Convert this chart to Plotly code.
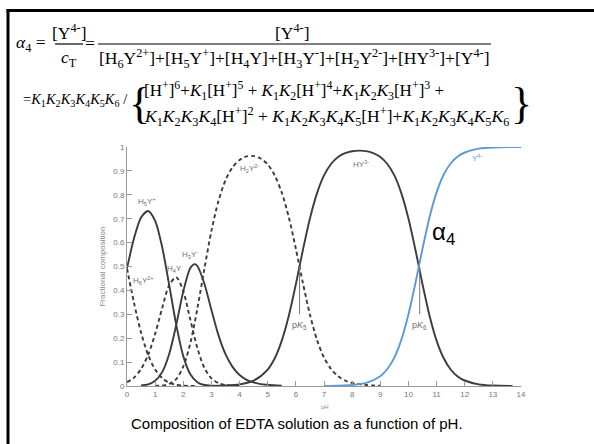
import plotly.graph_objects as go

# ---------------- data ----------------
ph_h6y = [0, 0.25, 0.5, 0.75, 1.0, 1.25, 1.5, 1.75, 2.0, 2.25, 2.5]
f_h6y = [0.492, 0.347, 0.223, 0.130, 0.069, 0.033, 0.013, 0.005, 0.001, 0.0, 0.0]

ph_h5y = [0, 0.25, 0.5, 0.75, 1.0, 1.25, 1.5, 1.75, 2.0, 2.25, 2.5, 2.75, 3.0, 3.5, 4.0]
f_h5y = [0.492, 0.618, 0.705, 0.732, 0.691, 0.581, 0.422, 0.256, 0.125, 0.049, 0.016, 0.004, 0.001, 0.0, 0.0]

ph_h4y = [0, 0.25, 0.5, 0.75, 1.0, 1.25, 1.5, 1.75, 2.0, 2.25, 2.5, 2.75, 3.0, 3.25, 3.5, 3.75]
f_h4y = [0.016, 0.035, 0.071, 0.130, 0.218, 0.326, 0.422, 0.455, 0.396, 0.278, 0.159, 0.076, 0.032, 0.012, 0.004, 0.001]

ph_h3y = [0.5, 0.75, 1.0, 1.25, 1.5, 1.75, 2.0, 2.25, 2.4, 2.5, 2.75, 3.0, 3.25, 3.5, 3.75, 4.0, 4.25, 4.5, 4.75, 5.0, 5.5]
f_h3y = [0.002, 0.007, 0.022, 0.058, 0.134, 0.256, 0.396, 0.494, 0.510, 0.502, 0.428, 0.318, 0.213, 0.133, 0.080, 0.046, 0.026, 0.015, 0.008, 0.005, 0.001]

ph_h2y = [1.0, 1.25, 1.5, 1.75, 2.0, 2.25, 2.5, 2.75, 3.0, 3.25, 3.5, 3.75, 4.0, 4.25, 4.5, 4.75, 5.0,
          5.25, 5.5, 5.75, 6.0, 6.25, 6.5, 6.75, 7.0, 7.25, 7.5, 7.75, 8.0, 8.5, 9.0]
f_h2y = [0.0004, 0.002, 0.009, 0.029, 0.081, 0.179, 0.324, 0.491, 0.649, 0.774, 0.861, 0.915, 0.946, 0.961, 0.962, 0.952, 0.927,
         0.881, 0.809, 0.706, 0.574, 0.431, 0.299, 0.193, 0.119, 0.071, 0.041, 0.023, 0.013, 0.004, 0.001]

ph_hy = [3.0, 3.5, 4.0, 4.5, 5.0, 5.25, 5.5, 5.75, 6.0, 6.25, 6.5, 6.75, 7.0, 7.25, 7.5, 7.75, 8.0, 8.25, 8.5,
         8.75, 9.0, 9.25, 9.5, 9.75, 10.0, 10.25, 10.5, 10.75, 11.0, 11.25, 11.5, 11.75, 12.0, 12.5, 13.0, 13.7]
f_hy = [0.0005, 0.002, 0.007, 0.0225, 0.069, 0.116, 0.190, 0.294, 0.426, 0.569, 0.701, 0.806, 0.881, 0.929, 0.958, 0.974, 0.982, 0.985, 0.983,
        0.974, 0.958, 0.929, 0.881, 0.806, 0.701, 0.569, 0.426, 0.294, 0.190, 0.117, 0.069, 0.040, 0.023, 0.007, 0.002, 0.0005]

ph_y = [7.0, 7.5, 8.0, 8.5, 9.0, 9.25, 9.5, 9.75, 10.0, 10.25, 10.5, 10.75, 11.0, 11.25, 11.5, 11.75, 12.0, 12.5, 13.0, 14.0]
f_y = [0.0004, 0.0013, 0.004, 0.013, 0.041, 0.071, 0.119, 0.194, 0.299, 0.431, 0.574, 0.706, 0.810, 0.884, 0.931, 0.960, 0.977, 0.993, 0.998, 1.0]

pk_labels = ["p<i>K</i><sub>5</sub>", "p<i>K</i><sub>6</sub>"]
pk_values = [6.13, 10.4]

x_ticks = list(range(0, 15))
y_ticks = [0, 0.1, 0.2, 0.3, 0.4, 0.5, 0.6, 0.7, 0.8, 0.9, 1]

# ---------------- figure ----------------
W, H = 594, 444
L, R, T, B = 127, 521, 147, 386

def px(x):
    return (x - L) / (R - L)

def py(y):
    return (B - y) / (B - T)

DARK = "#3c3c3c"
BLUE = "#5b9bd5"
DASH = "4px,3px"

fig = go.Figure()

def add(xs, ys, color, dash=None):
    fig.add_trace(go.Scatter(x=xs, y=ys, mode="lines", line=dict(color=color, width=1.9, dash=dash, shape="spline", smoothing=0.8),
                             hoverinfo="skip", showlegend=False, cliponaxis=False))

add(ph_h2y, f_h2y, DARK, DASH)
add(ph_h6y, f_h6y, DARK, DASH)
add(ph_h4y, f_h4y, DARK, DASH)
add(ph_h5y, f_h5y, DARK)
add(ph_h3y, f_h3y, DARK)
add(ph_hy, f_hy, DARK)
add(ph_y, f_y, BLUE)

# pK marker lines
for k in pk_values:
    fig.add_trace(go.Scatter(x=[k, k], y=[0.5, 0.3], mode="lines", line=dict(color="#777777", width=1),
                             hoverinfo="skip", showlegend=False))

annotations = []
GRAY = "#6f6f6f"
species = [
    ("H<sub>5</sub>Y<sup>+</sup>", 0.72, 0.77, GRAY),
    ("H<sub>6</sub>Y<sup>2+</sup>", 0.58, 0.44, GRAY),
    ("H<sub>4</sub>Y", 1.7, 0.49, GRAY),
    ("H<sub>3</sub>Y<sup>-</sup>", 2.25, 0.55, GRAY),
    ("H<sub>2</sub>Y<sup>2-</sup>", 4.37, 0.91, GRAY),
    ("HY<sup>3-</sup>", 8.3, 0.93, GRAY),
    ("Y<sup>4-</sup>", 12.45, 0.955, BLUE),
]
for txt_, x, y, c in species:
    annotations.append(dict(x=x, y=y, xref="x", yref="y", text=txt_, showarrow=False,
                            font=dict(family="Liberation Sans, Arial", size=8, color=c)))
for txt_, k in zip(pk_labels, pk_values):
    annotations.append(dict(x=k, y=0.255, xref="x", yref="y", text=txt_, showarrow=False,
                            font=dict(family="Liberation Sans, Arial", size=9, color=GRAY)))

annotations.append(dict(x=11.25, y=0.64, xref="x", yref="y", text="α<sub>4</sub>", showarrow=False,
                        font=dict(family="Liberation Sans, Arial", size=24, color="black")))

# ---------- formula (serif text) ----------
SERIF = "Liberation Serif, Times New Roman, serif"

def txt(x, y, s, size=17.5, xanchor="center", yanchor="middle", family=SERIF, color="black"):
    annotations.append(dict(x=px(x), y=py(y), xref="paper", yref="paper", text=s, showarrow=False,
                            xanchor=xanchor, yanchor=yanchor, font=dict(family=family, size=size, color=color)))

txt(14, 43, "<i>α</i><sub>4</sub> =", xanchor="left")
txt(69, 32, "[Y<sup>4-</sup>]")
txt(69, 58, "<i>c</i><sub>T</sub>")
txt(90, 43, "=")
txt(292, 32, "[Y<sup>4-</sup>]")
txt(294, 58, "[H<sub>6</sub>Y<sup>2+</sup>]+[H<sub>5</sub>Y<sup>+</sup>]+[H<sub>4</sub>Y]+[H<sub>3</sub>Y<sup>-</sup>]+"
             "[H<sub>2</sub>Y<sup>2-</sup>]+[HY<sup>3-</sup>]+[Y<sup>4-</sup>]")
txt(21, 100, "=<i>K</i><sub>1</sub><i>K</i><sub>2</sub><i>K</i><sub>3</sub><i>K</i><sub>4</sub><i>K</i><sub>5</sub><i>K</i><sub>6</sub> /",
    size=14.5, xanchor="left")
txt(127, 103, "{", size=44, xanchor="left")
txt(142, 90, "[H<sup>+</sup>]<sup>6</sup>+<i>K</i><sub>1</sub>[H<sup>+</sup>]<sup>5</sup> + <i>K</i><sub>1</sub><i>K</i><sub>2</sub>[H<sup>+</sup>]<sup>4</sup>+"
             "<i>K</i><sub>1</sub><i>K</i><sub>2</sub><i>K</i><sub>3</sub>[H<sup>+</sup>]<sup>3</sup> +", size=17, xanchor="left")
txt(142, 116, "<i>K</i><sub>1</sub><i>K</i><sub>2</sub><i>K</i><sub>3</sub><i>K</i><sub>4</sub>[H<sup>+</sup>]<sup>2</sup> + "
              "<i>K</i><sub>1</sub><i>K</i><sub>2</sub><i>K</i><sub>3</sub><i>K</i><sub>4</sub><i>K</i><sub>5</sub>[H<sup>+</sup>]+"
              "<i>K</i><sub>1</sub><i>K</i><sub>2</sub><i>K</i><sub>3</sub><i>K</i><sub>4</sub><i>K</i><sub>5</sub><i>K</i><sub>6</sub>", xanchor="left")
txt(534, 103, "}", size=44, xanchor="right")

# caption
txt(297, 423, "Composition of EDTA solution as a function of pH.", size=15, family="Liberation Sans, Arial")
# x axis title
txt(325, 407, "pH", size=6, family="Liberation Sans, Arial", color="#888888")

shapes = [
    # fraction bars
    dict(type="line", xref="paper", yref="paper", x0=px(55), x1=px(83), y0=py(44), y1=py(44), line=dict(color="black", width=1.2)),
    dict(type="line", xref="paper", yref="paper", x0=px(98), x1=px(491), y0=py(44), y1=py(44), line=dict(color="black", width=1.2)),
    # slide frame
    dict(type="line", xref="paper", yref="paper", x0=px(6.5), x1=px(600), y0=py(10.5), y1=py(10.5), line=dict(color="black", width=3)),
    dict(type="line", xref="paper", yref="paper", x0=px(8), x1=px(8), y0=py(9), y1=py(450), line=dict(color="black", width=3)),
]

fig.update_layout(
    width=W, height=H,
    margin=dict(l=L, r=W - R, t=T, b=H - B, pad=0),
    paper_bgcolor="white", plot_bgcolor="white",
    showlegend=False,
    annotations=annotations,
    shapes=shapes,
    xaxis=dict(range=[0, 14], tickvals=x_ticks, ticks="inside", ticklen=5, tickcolor="#999999",
               showline=True, linecolor="#999999", linewidth=1, showgrid=False, zeroline=False,
               tickfont=dict(family="Liberation Sans, Arial", size=8, color="#777777")),
    yaxis=dict(range=[0, 1], tickvals=y_ticks, ticks="inside", ticklen=5, tickcolor="#999999",
               showline=True, linecolor="#999999", linewidth=1, showgrid=False, zeroline=False,
               tickfont=dict(family="Liberation Sans, Arial", size=8, color="#777777"),
               title=dict(text="Fractional composition", standoff=6,
                          font=dict(family="Liberation Sans, Arial", size=8, color="#888888"))),
)

fig.write_html("out.html")
